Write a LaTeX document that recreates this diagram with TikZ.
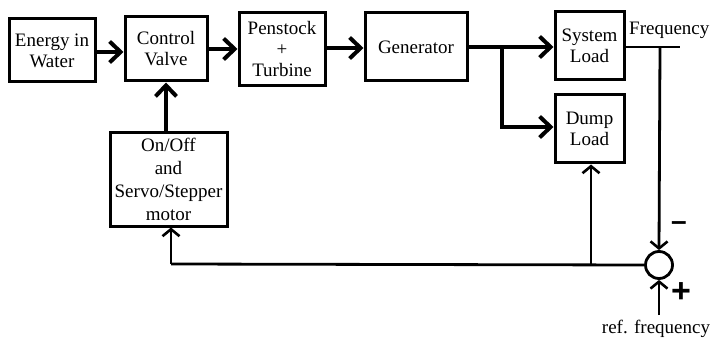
\documentclass[tikz,border=0pt]{standalone}
\usepackage{fontspec}
\setmainfont{Liberation Serif}
\newfontfamily\signfont{Liberation Sans}
\usetikzlibrary{arrows.meta}
\begin{document}
\begin{tikzpicture}[x=1pt,y=-1pt,
  block/.style={draw,line width=3pt,inner sep=0pt,align=center,
    font=\fontsize{19}{21}\selectfont},
  flow/.style={line width=4.6pt,-{Straight Barb[length=11pt,width=21pt,line width=4pt]}},
  signal/.style={line width=2.8pt,-{Straight Barb[length=7pt,width=17pt,line width=2.6pt]}},
  wire/.style={line width=2.8pt},
  lbl/.style={inner sep=0pt,font=\fontsize{19}{21}\selectfont},
  sign/.style={inner sep=0pt,font=\signfont\bfseries\fontsize{28}{30}\selectfont}]
\useasboundingbox (0,0) rectangle (714,339);

% forward path blocks
\node[block,minimum width=86pt,minimum height=63pt] (energy) at (52,50.5) {Energy in\\Water};
\node[block,minimum width=82pt,minimum height=64pt] (valve) at (166,49) {Control\\Valve};
\node[block,minimum width=86pt,minimum height=73pt] (pen) at (282,49.5) {Penstock\\+\\Turbine};
\node[block,minimum width=102pt,minimum height=68pt] (gen) at (416,47) {Generator};
\node[block,minimum width=69pt,minimum height=68pt] (sys) at (589.5,46) {System\\Load};
\node[block,minimum width=69pt,minimum height=68pt] (dump) at (589.5,129) {Dump\\Load};
\node[block,minimum width=117pt,minimum height=93pt,
  font=\fontsize{19}{23}\selectfont] (act) at (168.5,179.5) {On/Off\\and\\Servo/Stepper\\motor};

% summing junction
\node[draw,circle,line width=2.8pt,minimum size=27pt,inner sep=0pt] (sum) at (659,265) {};

% texts
\node[lbl,anchor=west] (freq) at (629,30) {Frequency};
\node[lbl] (ref) at (656,329) {ref. frequency};
\node[sign] (minus) at (679,226) {–};
\node[sign,font=\signfont\bfseries\fontsize{34}{36}\selectfont] (plus) at (681,293) {+};

\coordinate (split) at (502,47);
\coordinate (fend) at (680,47);
\coordinate (ftap) at (660,47);
\coordinate (rstart) at (659,315);
\coordinate (fbleft) at (171,264);
\coordinate (fbdump) at (591,264);

% power flow
\draw[flow] (energy.east |- 0,52) -- (valve.west |- 0,52);
\draw[flow] (valve.east |- 0,49) -- (pen.west |- 0,49);
\draw[flow] (pen.east |- 0,48) -- (gen.west |- 0,48);
\draw[flow] (gen.east |- split) -- (sys.west |- split);
\draw[flow] (split) |- (dump.west |- 0,127);
\draw[flow] (act.north -| 166,0) -- (valve.south -| 166,0);

% frequency measurement and feedback
\draw[wire] (sys.east |- fend) -- (fend);
\draw[signal] (ftap) -- (sum.north);
\draw[signal] (rstart) -- (sum.south);
\draw[wire] (sum.west) -- (fbleft);
\draw[signal] (fbleft) -- (act.south -| fbleft);
\draw[signal] (fbdump) -- (dump.south -| fbdump);
\end{tikzpicture}
\end{document}
